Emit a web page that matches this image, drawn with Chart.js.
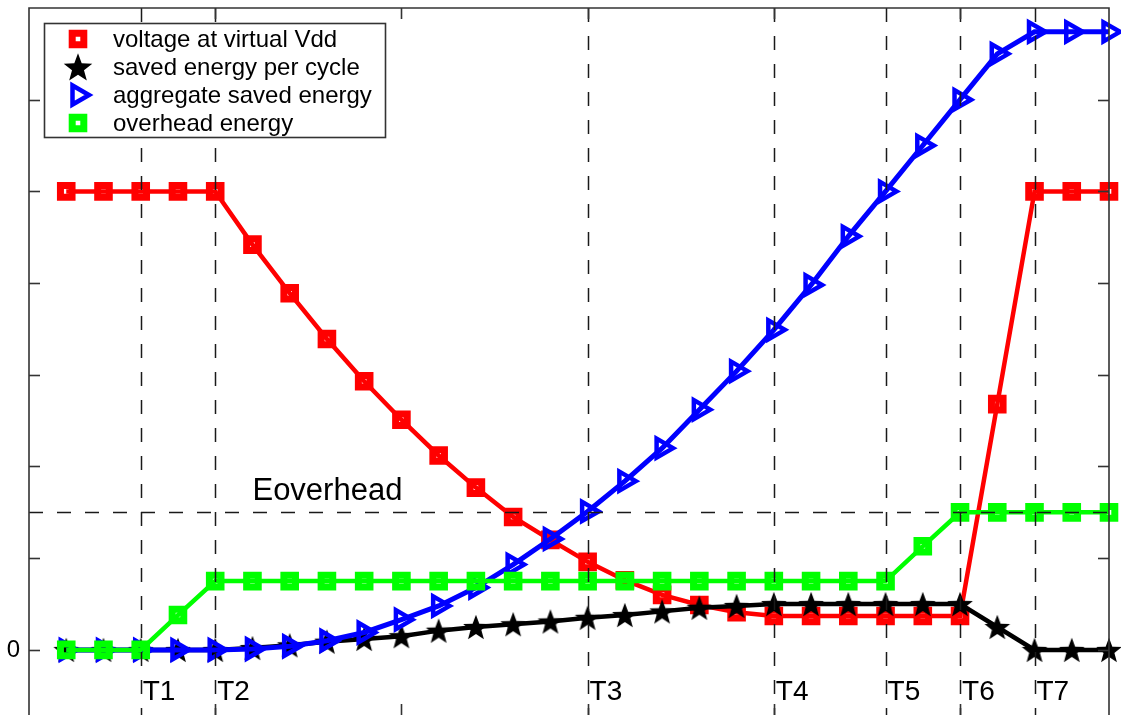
<!DOCTYPE html>
<html>
<head>
<meta charset="utf-8">
<script src="https://cdn.jsdelivr.net/npm/chart.js@4.4.1/dist/chart.umd.min.js"></script>
<style>
html,body{margin:0;padding:0;background:#fff;overflow:hidden}
canvas{display:block}
</style>
</head>
<body>
<canvas id="c" width="1121" height="715"></canvas>
<script>
// ---------- data ----------
const xValues = [1,2,3,4,5,6,7,8,9,10,11,12,13,14,15,16,17,18,19,20,21,22,23,24,25,26,27,28,29];
const voltageVdd = [5,5,5,5,5,4.42,3.89,3.39,2.93,2.51,2.12,1.77,1.45,1.2,0.96,0.76,0.6,0.49,0.41,0.37,0.37,0.37,0.37,0.37,0.37,2.68,5,5,5];
const savedPerCycle = [0,0,0,0,0,0.02,0.05,0.09,0.12,0.15,0.21,0.25,0.28,0.31,0.35,0.38,0.42,0.46,0.48,0.5,0.5,0.5,0.5,0.5,0.5,0.25,0,0,0];
const aggregateSaved = [0,0,0,0,0,0.01,0.04,0.1,0.19,0.33,0.48,0.68,0.93,1.21,1.51,1.84,2.2,2.62,3.04,3.49,3.98,4.51,5.0,5.5,6.0,6.5,6.74,6.74,6.74];
const overheadEnergy = [0,0,0,0.38,0.75,0.75,0.75,0.75,0.75,0.75,0.75,0.75,0.75,0.75,0.75,0.75,0.75,0.75,0.75,0.75,0.75,0.75,0.75,1.13,1.5,1.5,1.5,1.5,1.5];
const seriesLabels = ['voltage at virtual Vdd','saved energy per cycle','aggregate saved energy','overhead energy'];
const phaseLabels = ['T1','T2','T3','T4','T5','T6','T7'];
const phasePositions = [3,5,15,20,23,25,27];
const eOverheadLevel = 1.5;
const eOverheadLabel = 'Eoverhead';
const eOverheadLabelX = 6;
const yLabeledTicks = [0];

// ---------- helpers ----------
const FONT = '"Liberation Sans", Arial, Helvetica, sans-serif';
function makeStar(size, R, color){
  const c = document.createElement('canvas');
  c.width = c.height = size;
  const g = c.getContext('2d');
  const cx = size/2, cy = size/2 + R*0.09, r = R*0.42;
  g.beginPath();
  for (let k = 0; k < 10; k++) {
    const ang = -Math.PI/2 + k*Math.PI/5;
    const rad = (k % 2) ? r : R;
    g.lineTo(cx + rad*Math.cos(ang), cy + rad*Math.sin(ang));
  }
  g.closePath();
  g.fillStyle = color;
  g.fill();
  return c;
}
const starData = makeStar(32, 13.5, '#000');
const starLegend = makeStar(34, 15, '#000');
const pts = arr => xValues.map((x,i) => ({x: x, y: arr[i]}));

const datasets = [
  {label: seriesLabels[0], data: pts(voltageVdd), borderColor:'#ff0000', borderWidth:4.5,
   pointStyle:'rect', pointRadius:8.2, pointBorderWidth:7, pointBorderColor:'#ff0000',
   pointBackgroundColor:'rgba(0,0,0,0)', order:4, clip:false, legendMark:{style:'rect', radius:8.2, bw:7, color:'#ff0000'}},
  {label: seriesLabels[1], data: pts(savedPerCycle), borderColor:'#000000', borderWidth:4.5,
   pointStyle:starData, pointRadius:13, order:3, clip:false, legendMark:{style:starLegend}},
  {label: seriesLabels[2], data: pts(aggregateSaved), borderColor:'#0000ff', borderWidth:5,
   pointStyle:'triangle', pointRotation:90, pointRadius:11, pointBorderWidth:4.5, pointBorderColor:'#0000ff',
   pointBackgroundColor:'rgba(0,0,0,0)', order:2, clip:false, legendMark:{style:'triangle', rotation:90, radius:11, bw:4.5, color:'#0000ff'}},
  {label: seriesLabels[3], data: pts(overheadEnergy), borderColor:'#00ff00', borderWidth:4.5,
   pointStyle:'rect', pointRadius:8.2, pointBorderWidth:7, pointBorderColor:'#00ff00',
   pointBackgroundColor:'rgba(0,0,0,0)', order:1, clip:false, legendMark:{style:'rect', radius:8.2, bw:7, color:'#00ff00'}}
];

const bgPlugin = {
  id:'bg',
  beforeDraw(chart){
    const ctx = chart.ctx;
    ctx.save(); ctx.fillStyle = '#fff'; ctx.fillRect(0,0,chart.width,chart.height); ctx.restore();
  }
};

const decorPlugin = {
  id:'decor',
  afterDatasetsDraw(chart){
    const ctx = chart.ctx, a = chart.chartArea;
    const xs = chart.scales.x, ys = chart.scales.y;
    ctx.save();
    // dashed reference lines
    ctx.strokeStyle = '#1a1a1a';
    ctx.lineWidth = 1.5;
    ctx.setLineDash([14, 14]);
    phasePositions.forEach(v => {
      const px = Math.round(xs.getPixelForValue(v)) + 0.5;
      ctx.beginPath(); ctx.moveTo(px, a.top); ctx.lineTo(px, a.bottom); ctx.stroke();
    });
    const py = Math.round(ys.getPixelForValue(eOverheadLevel)) + 0.5;
    ctx.beginPath(); ctx.moveTo(a.left, py); ctx.lineTo(a.right, py); ctx.stroke();
    ctx.setLineDash([]);

    // frame (left, top, right)
    ctx.strokeStyle = '#333';
    ctx.lineWidth = 1.6;
    ctx.beginPath();
    ctx.moveTo(a.left, a.bottom + 2); ctx.lineTo(a.left, a.top); ctx.lineTo(a.right, a.top); ctx.lineTo(a.right, a.bottom + 2);
    ctx.stroke();
    // inward ticks
    const tl = 11;
    ys.ticks.forEach(t => {
      const v = t.value;
      if (Math.abs(v - Math.round(v)) > 1e-6 || v <= ys.min || v >= ys.max) return;
      const p = Math.round(ys.getPixelForValue(v)) + 0.5;
      ctx.beginPath(); ctx.moveTo(a.left, p); ctx.lineTo(a.left + tl, p); ctx.stroke();
      ctx.beginPath(); ctx.moveTo(a.right, p); ctx.lineTo(a.right - tl, p); ctx.stroke();
    });
    xs.ticks.forEach(t => {
      const v = t.value;
      if (v <= xs.min || v >= xs.max) return;
      const p = Math.round(xs.getPixelForValue(v)) + 0.5;
      ctx.beginPath(); ctx.moveTo(p, a.top); ctx.lineTo(p, a.top + tl); ctx.stroke();
      ctx.beginPath(); ctx.moveTo(p, a.bottom); ctx.lineTo(p, a.bottom - tl); ctx.stroke();
    });

    // phase labels
    ctx.fillStyle = '#000';
    ctx.font = '28px ' + FONT;
    ctx.textAlign = 'left';
    ctx.textBaseline = 'alphabetic';
    phasePositions.forEach((v,i) => {
      ctx.fillText(phaseLabels[i], xs.getPixelForValue(v) + 2, 700);
    });
    // Eoverhead label
    ctx.font = '31px ' + FONT;
    ctx.fillText(eOverheadLabel, xs.getPixelForValue(eOverheadLabelX), ys.getPixelForValue(eOverheadLevel) - 12);

    // legend
    const lx = a.left + 15, ly = a.top + 15, lw = 341, lh = 114;
    ctx.fillStyle = '#fff';
    ctx.fillRect(lx, ly, lw, lh);
    ctx.strokeStyle = '#333';
    ctx.lineWidth = 1.6;
    ctx.strokeRect(lx + 0.5, ly + 0.5, lw, lh);
    chart.data.datasets.forEach((ds, i) => {
      const cy = ly + 16 + i*28;
      const cx = lx + 34;
      const m = ds.legendMark;
      if (m.style instanceof HTMLCanvasElement) {
        ctx.drawImage(m.style, cx - m.style.width/2, cy - m.style.height/2);
      } else {
        ctx.save();
        ctx.strokeStyle = m.color;
        ctx.fillStyle = 'rgba(0,0,0,0)';
        ctx.lineWidth = m.bw;
        Chart.helpers.drawPoint(ctx, {pointStyle:m.style, rotation:m.rotation || 0, radius:m.radius, borderWidth:m.bw}, cx, cy);
        ctx.restore();
      }
      ctx.fillStyle = '#000';
      ctx.font = '24px ' + FONT;
      ctx.textBaseline = 'middle';
      ctx.fillText(ds.label, lx + 69, cy + 1);
    });
    ctx.restore();
  }
};

new Chart(document.getElementById('c'), {
  type:'line',
  data:{datasets: datasets},
  options:{
    responsive:false,
    animation:false,
    events:[],
    layout:{autoPadding:false, padding:{left:0, top:8, right:12, bottom:0}},
    plugins:{legend:{display:false}, tooltip:{enabled:false}},
    elements:{line:{tension:0}},
    scales:{
      x:{type:'linear', display:false, min:0, max:29, ticks:{stepSize:5}},
      y:{type:'linear', min:-0.71, max:7,
         afterFit(scale){ scale.width = 29; scale.paddingTop = 0; scale.paddingBottom = 0; },
         grid:{display:false, drawTicks:false},
         border:{display:false},
         ticks:{stepSize:1, padding:9, color:'#000', font:{family:FONT, size:24},
                callback:(v) => yLabeledTicks.includes(v) ? String(v) : ''}}
    }
  },
  plugins:[bgPlugin, decorPlugin]
});
</script>
</body>
</html>
